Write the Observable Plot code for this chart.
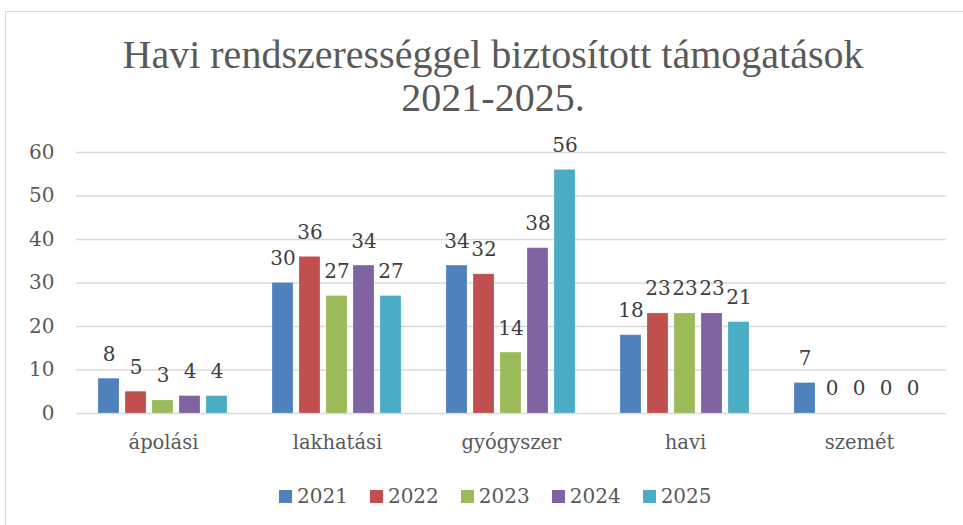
<!DOCTYPE html>
<html><head><meta charset="utf-8">
<script src="https://cdn.jsdelivr.net/npm/d3@7"></script>
<script src="https://cdn.jsdelivr.net/npm/@observablehq/plot@0.6"></script>
<style>
body{margin:0;background:#fff;overflow:hidden;}
#frame{position:absolute;left:5px;top:11px;width:1000px;height:600px;border-left:1px solid #d9d9d9;border-top:1px solid #d9d9d9;box-sizing:border-box;}
#title{position:absolute;left:0;width:986px;top:33px;text-align:center;font-family:"Liberation Serif";font-size:40px;line-height:43.4px;color:#595959;white-space:nowrap;}
#chart{position:absolute;left:0;top:130px;}
#legend{position:absolute;left:279px;top:484px;display:flex;align-items:center;font-family:"DejaVu Serif";font-size:20px;color:#595959;white-space:nowrap;}
#legend .item{display:flex;align-items:center;margin-right:22px;}
#legend .sw{width:13px;height:13px;margin-right:5px;}
</style></head>
<body>
<div id="frame"></div>
<div id="title">Havi rendszerességgel biztosított támogatások<br>2021-2025.</div>
<div id="chart"></div>
<div id="legend"></div>
<script>
const categories = ["ápolási", "lakhatási", "gyógyszer", "havi", "szemét"];
const years = ["2021", "2022", "2023", "2024", "2025"];
const values2021 = [8, 30, 34, 18, 7];
const values2022 = [5, 36, 32, 23, 0];
const values2023 = [3, 27, 14, 23, 0];
const values2024 = [4, 34, 38, 23, 0];
const values2025 = [4, 27, 56, 21, 0];
const yTicks = [0, 10, 20, 30, 40, 50, 60];
const colors = ["#4F81BD", "#C0504D", "#9BBB59", "#8064A2", "#4BACC6"];

const series = [values2021, values2022, values2023, values2024, values2025];
const table = [];
years.forEach((yr, i) => categories.forEach((c, j) => table.push({year: yr, category: c, value: series[i][j]})));

const chart = Plot.plot({
  width: 963, height: 340,
  marginLeft: 74, marginRight: 15, marginTop: 22, marginBottom: 57,
  style: {fontFamily: "DejaVu Serif", fontSize: "20px", color: "#595959", background: "transparent"},
  fx: {domain: categories, padding: 0, label: null},
  x: {domain: years, paddingInner: 0.222, paddingOuter: 0.8, axis: null},
  y: {domain: [0, 60], label: null},
  color: {domain: years, range: colors},
  marks: [
    Plot.ruleY(yTicks, {stroke: "#d9d9d9", strokeWidth: 1.3}),
    Plot.barY(table, {fx: "category", x: "year", y: "value", fill: "year", stroke: "white", strokeOpacity: 0.2, strokeWidth: 1}),
    Plot.text(table, {fx: "category", x: "year", y: "value", text: d => String(d.value), dy: -24.5, fill: "#404040", fontSize: 20}),
    Plot.axisY({ticks: yTicks, tickSize: 0, tickPadding: 22, label: null, fontSize: 20}),
    Plot.axisFx({anchor: "bottom", tickSize: 0, tickPadding: 22, label: null, fontSize: 19.5})
  ]
});
document.getElementById("chart").appendChild(chart);

const legend = document.getElementById("legend");
years.forEach((yr, i) => {
  const item = document.createElement("div");
  item.className = "item";
  const sw = document.createElement("div");
  sw.className = "sw";
  sw.style.background = colors[i];
  const t = document.createElement("span");
  t.textContent = yr;
  item.appendChild(sw); item.appendChild(t);
  legend.appendChild(item);
});
</script>
</body></html>
